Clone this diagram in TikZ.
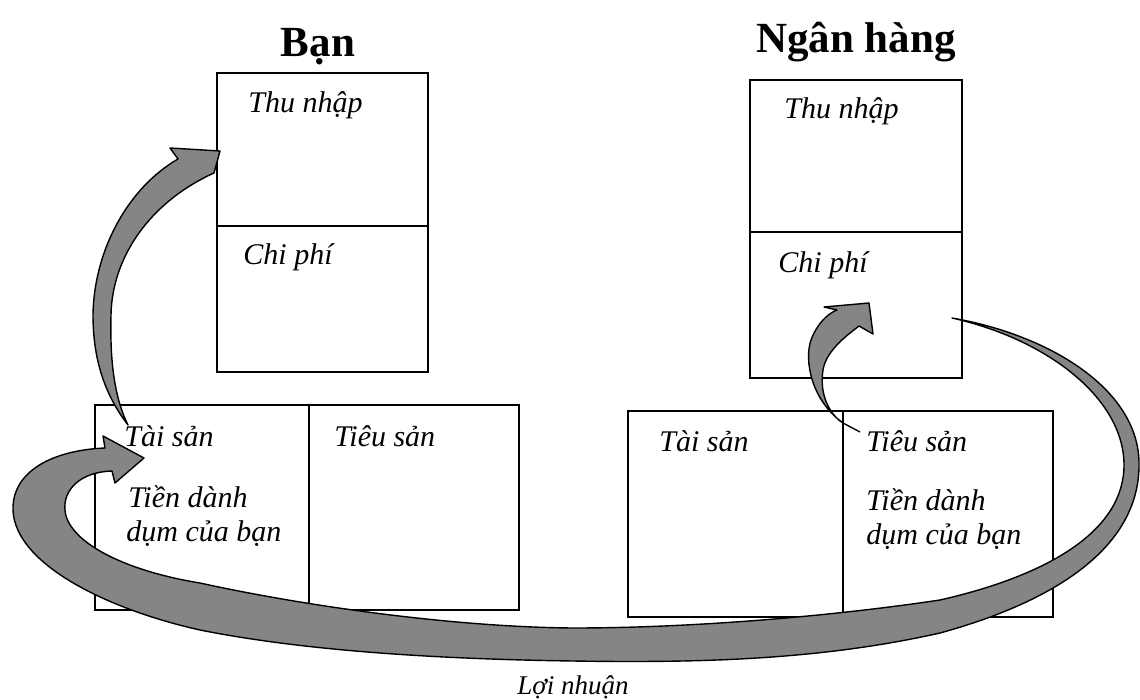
\documentclass[tikz,border=0pt]{standalone}
\usepackage{fontspec}
\setmainfont{Liberation Serif}
\usetikzlibrary{positioning}

\begin{document}
\begin{tikzpicture}[x=0.5pt,y=-0.5pt,
    box/.style={line width=1.1pt},
    band/.style={fill=black!48, draw=black, line width=0.7pt, line join=round},
    lbl/.style={anchor=base west, inner sep=0pt, font=\fontsize{15}{18}\selectfont\itshape},
    title/.style={anchor=base, inner sep=0pt, font=\fontsize{21.5}{26}\selectfont\bfseries}]
    \useasboundingbox (0,0) rectangle (1140,700);

    % Titles
    \node[title] (ban) at (318,57) {Bạn};
    \node[title] (nganhang) at (856,53) {Ngân hàng};

    % Ban: income statement
    \draw[box] (217,73) rectangle (428,372);
    \draw[box] (217,226) -- (428,226);
    \node[lbl] (banthu) at (248,113) {Thu nhập};
    \node[lbl] (banchi) at (243,264) {Chi phí};

    % Ngan hang: income statement
    \draw[box] (750,80) rectangle (962,378);
    \draw[box] (750,232) -- (962,232);
    \node[lbl] (nhthu) at (784,119) {Thu nhập};
    \node[lbl] (nhchi) at (778,272) {Chi phí};

    % Ban: balance sheet
    \draw[box] (95,405) rectangle (519,610);
    \draw[box] (309,405) -- (309,610);
    \node[lbl] (bants) at (124,446) {Tài sản};
    \node[lbl] (bantieu) at (334,446) {Tiêu sản};
    \node[lbl] (bantien) at (128,507) {Tiền dành};
    \node[lbl] (bandum) at (126,541) {dụm của bạn};

    % Ngan hang: balance sheet
    \draw[box] (628,411) rectangle (1053,617);
    \draw[box] (843,411) -- (843,617);
    \node[lbl] (nhts) at (659,451) {Tài sản};
    \node[lbl] (nhtieu) at (866,451) {Tiêu sản};
    \node[lbl] (nhtien) at (866,510) {Tiền dành};
    \node[lbl] (nhdum) at (866,544) {dụm của bạn};

    % Arrow: savings -> income
    \draw[band] (128,425) .. controls (105,395) and (93,360) .. (93,315)
        .. controls (94,250) and (128,188) .. (178,159) -- (170,148) -- (220,151)
        -- (214,173) .. controls (150,202) and (112,257) .. (111,315)
        .. controls (110,355) and (113,395) .. (128,425) -- cycle;

    % Arrow: deposits -> bank expenses
    \draw[line width=0.7pt] (860,432) -- (843,423);
    \draw[band] (843,423) .. controls (811,400) and (804,360) .. (811,340)
        .. controls (817,324) and (827,314) .. (837,310) -- (824,307) -- (869,303)
        -- (873,334) -- (859,326) .. controls (846,336) and (826,351) .. (823,370)
        .. controls (819,395) and (830,415) .. (843,423) -- cycle;

    % Arrow: profit back to savings
    \draw[band] (952,318) .. controls (1050,335) and (1140,390) .. (1139,465)
        .. controls (1139,545) and (1060,600) .. (940,633)
        .. controls (820,660) and (700,663) .. (573,661)
        .. controls (430,659) and (300,650) .. (200,630)
        .. controls (110,610) and (15,565) .. (13,510)
        .. controls (12,470) and (55,450) .. (105,448)
        -- (103,436) -- (144,458) -- (115,483) -- (112,471)
        .. controls (80,472) and (63,490) .. (65,510)
        .. controls (67,540) and (120,570) .. (200,583)
        .. controls (300,605) and (450,627) .. (573,628)
        .. controls (700,628) and (840,615) .. (940,600)
        .. controls (1050,575) and (1124,530) .. (1124,465)
        .. controls (1124,400) and (1050,340) .. (952,318) -- cycle;
    \node[lbl, font=\fontsize{13.5}{16}\selectfont\itshape, anchor=base] (loinhuan) at (573,694) {Lợi nhuận};
\end{tikzpicture}
\end{document}
